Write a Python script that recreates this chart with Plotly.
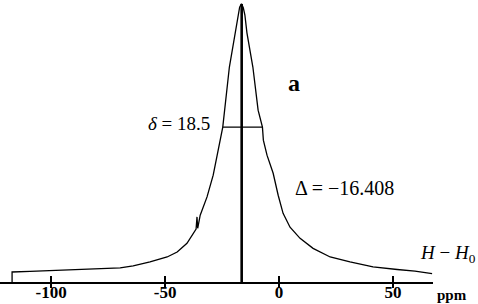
import plotly.graph_objects as go

# Spectrum trace (ppm, intensity with peak = 100)
ppm = [-117.1, -117.1, -109.2, -100.0, -89.5, -78.5, -69.7, -64.0, -56.6, -49.1,
       -44.7, -40.4, -37.7, -36.4, -36.0, -35.7, -34.6, -31.6, -28.9, -27.2,
       -25.9, -24.7, -21.8, -19.3, -18.0, -17.3, -16.5, -15.7, -15.0, -14.1,
       -11.5, -9.2, -7.3, -6.9, -5.3, -2.6, -0.4, 1.75, 4.8, 9.2,
       14.9, 22.4, 31.1, 41.2, 51.8, 59.6, 67.1]
intensity = [0.0, 3.6, 3.85, 4.2, 4.4, 4.8, 5.1, 5.8, 7.2, 9.0,
             10.8, 13.9, 17.5, 19.0, 23.4, 19.3, 24.0, 30.6, 38.4, 45.0,
             51.0, 55.7, 77.3, 89.6, 96.0, 98.8, 100.0, 98.6, 96.0, 89.6,
             77.3, 61.8, 55.7, 51.0, 45.6, 39.1, 31.2, 24.7, 19.7, 15.7,
             12.1, 9.0, 7.2, 5.4, 4.5, 3.9, 3.0]

peak_shift = -16.408          # Δ
half_width_x = [-24.7, -7.3]  # ends of the δ bar
half_width_y = [55.7, 55.7]
tick_vals = [-100, -50, 0, 50]
tick_text = ["-100", "-50", "0", "50"]
x_range = [-122.4, 67.5]
y_range = [0, 101.4]

serif = "Liberation Serif, Times New Roman, serif"
PH = 282  # plot-area height in px

fig = go.Figure()
fig.add_trace(go.Scatter(x=ppm, y=intensity, mode="lines",
                         line=dict(color="black", width=1.3), hoverinfo="skip"))
fig.add_trace(go.Scatter(x=[peak_shift, peak_shift], y=[0, 100], mode="lines",
                         line=dict(color="black", width=2.6), hoverinfo="skip"))
fig.add_trace(go.Scatter(x=half_width_x, y=half_width_y, mode="lines",
                         line=dict(color="black", width=1.3), hoverinfo="skip"))
# invisible trace for the overlay axis
fig.add_trace(go.Scatter(x=x_range, y=[0, 0], xaxis="x2", mode="lines",
                         line=dict(width=0), hoverinfo="skip"))

fig.update_layout(
    width=478, height=304,
    margin=dict(l=0, r=0, t=0, b=304 - PH, autoexpand=False),
    paper_bgcolor="white", plot_bgcolor="white",
    showlegend=False,
    xaxis=dict(domain=[0, 433/478], range=x_range, showgrid=False, zeroline=False,
               automargin=False,
               showline=True, linecolor="black", linewidth=2,
               ticks="outside", ticklen=4, tickwidth=2, tickcolor="black",
               tickvals=tick_vals, ticktext=tick_text, ticklabelstandoff=-10,
               tickfont=dict(family=serif, size=17, color="black", weight="bold")),
    xaxis2=dict(domain=[0, 433/478], range=x_range, overlaying="x", anchor="y",
                side="bottom", showgrid=False, zeroline=False, showline=False,
                automargin=False,
                ticks="inside", ticklen=6, tickwidth=2, tickcolor="black",
                tickvals=tick_vals, showticklabels=False),
    yaxis=dict(range=y_range, visible=False, showgrid=False, zeroline=False,
               automargin=False),
)

ann = [
    dict(text="<b>a</b>", x=293.5, y=83, size=24, xanchor="center"),
    dict(text="<i>δ</i> = 18.5", x=212, y=123, size=19, xanchor="right"),
    dict(text="Δ = −16.408", x=293, y=188, size=20, xanchor="left"),
    dict(text="<i>H</i> − <i>H</i><sub>0</sub>", x=418, y=254, size=19, xanchor="left"),
    dict(text="<b>ppm</b>", x=435, y=295, size=15, xanchor="left"),
]
for a in ann:
    fig.add_annotation(text=a["text"], x=a["x"] / 478, y=1 - a["y"] / PH,
                       xref="paper", yref="paper",
                       xanchor=a["xanchor"], yanchor="middle", showarrow=False,
                       font=dict(family=serif, size=a["size"], color="black"))

fig.write_html("out.html", config={"displayModeBar": False},
               post_script="document.body.style.margin='0';document.body.style.overflow='hidden';")
